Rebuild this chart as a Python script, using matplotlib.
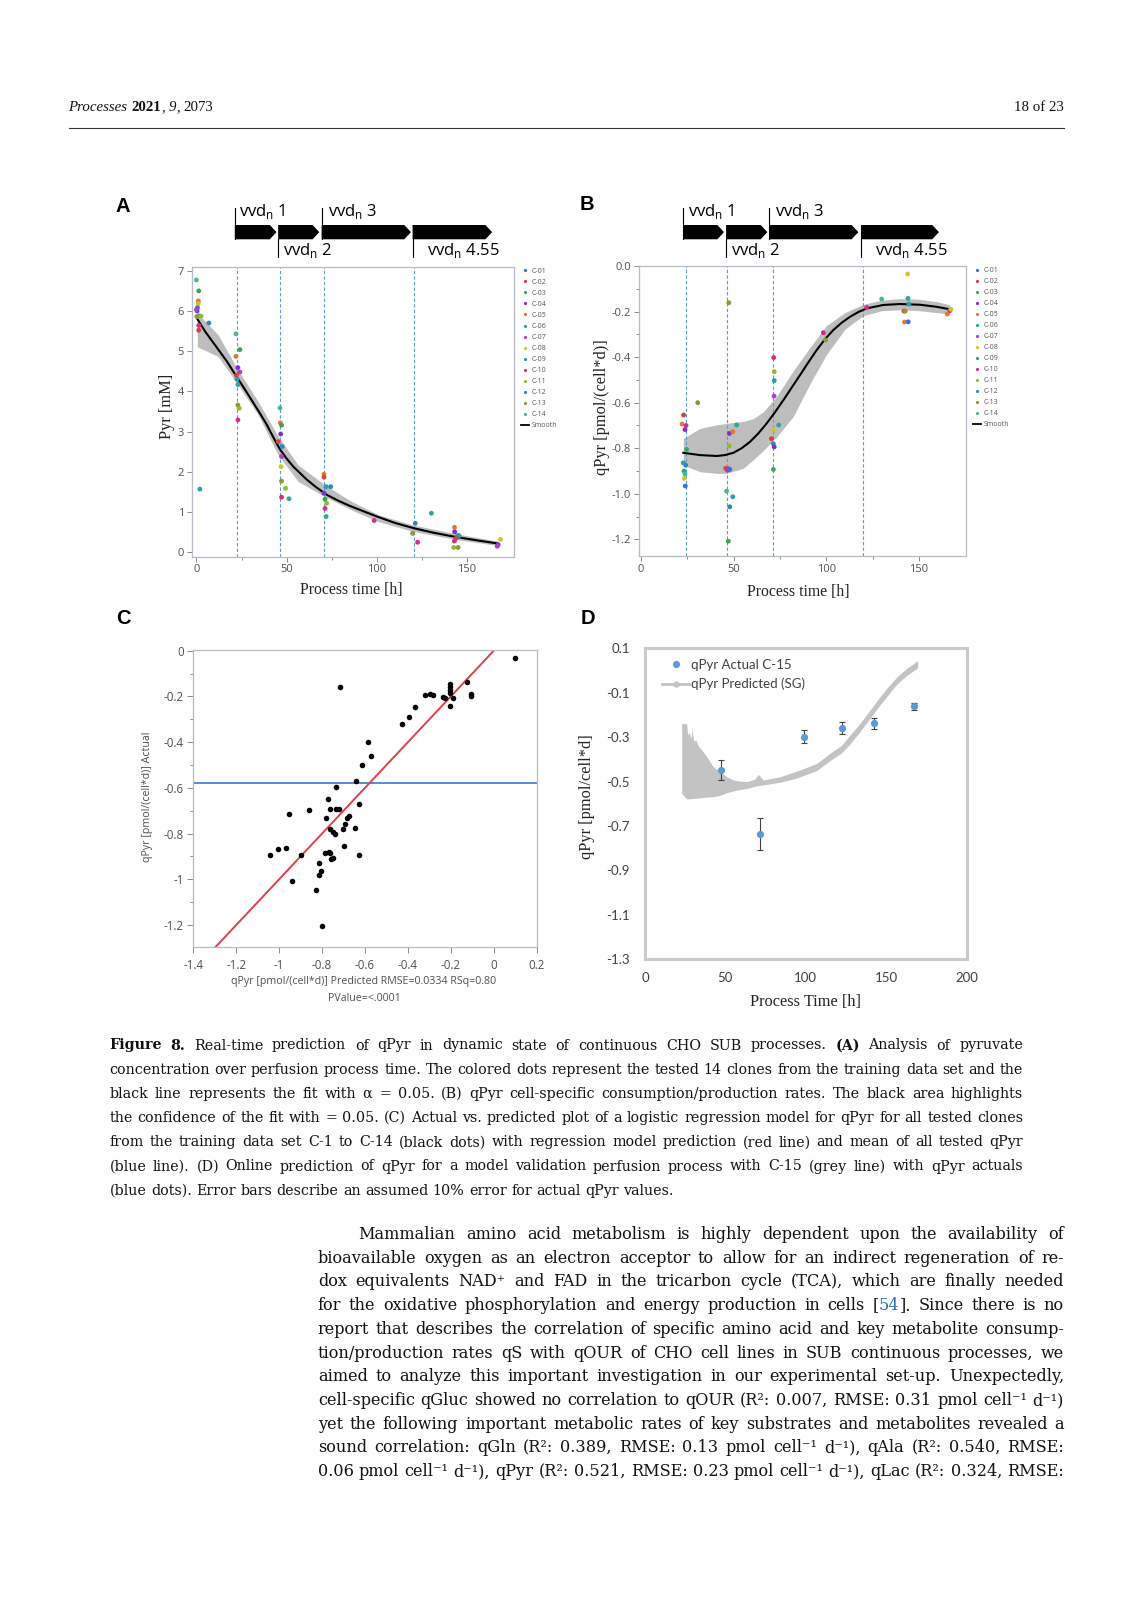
import matplotlib
matplotlib.use('Agg')
import matplotlib.pyplot as plt
import matplotlib.transforms as mtransforms
from matplotlib.lines import Line2D
from matplotlib.patches import Polygon
from matplotlib.ticker import FixedLocator, FuncFormatter

W, H = 1131, 1600
SERIF = ['Liberation Serif', 'DejaVu Serif']
TEXT_SERIF = ['DejaVu Serif']
SANS = ['Open Sans', 'DejaVu Sans']
plt.rcParams['font.family'] = SANS
plt.rcParams['axes.unicode_minus'] = False

# ---------------- data ----------------
clone_names = ['C-%02d' % i for i in range(1, 15)]
clone_colors = ['#3B6FD6', '#D6413B', '#3AA655', '#7E2FD0', '#E07B27', '#2AA89A', '#B43BD0',
                '#C9C92A', '#2A9DB0', '#D22C8C', '#8DBE32', '#2E86C1', '#8F9A2E', '#4FB58E']
phase_labels = ['1', '2', '3', '4.55']

# panel A: Pyr concentration
a_time = [0.0, 1.3, 1.1, 1.1, 0.6, 0.4, 0.0, 1.5, 0.2, 2.6, 1.3, 1.3, 6.9, 1.9,
          21.9, 24.1, 21.9, 23.0, 24.1, 22.2, 22.5, 23.0, 23.0, 23.7, 23.0,
          46.3, 46.5, 47.2, 46.7, 45.4, 47.6, 47.2, 46.9, 47.2, 49.4, 47.2, 51.3,
          70.7, 70.7, 71.9, 74.4, 70.7, 71.3, 72.2, 71.3, 71.9,
          98.5, 121.3, 130.2, 119.8, 122.6,
          143.0, 143.1, 144.8, 145.6, 143.9, 143.0, 142.6, 145.0,
          168.5, 167.2, 166.7]
a_pyr = [6.77, 6.50, 6.25, 6.18, 6.08, 6.00, 6.03, 5.88, 5.86, 5.87, 5.64, 5.52, 5.70, 1.57,
         5.43, 5.04, 4.87, 4.59, 4.48, 4.40, 4.30, 4.17, 3.66, 3.58, 3.29,
         3.59, 3.22, 3.16, 2.94, 2.75, 2.63, 2.38, 2.13, 1.77, 1.59, 1.37, 1.33,
         1.94, 1.87, 1.63, 1.63, 1.47, 1.32, 1.22, 1.09, 0.89,
         0.79, 0.72, 0.97, 0.47, 0.25,
         0.62, 0.51, 0.42, 0.41, 0.35, 0.28, 0.12, 0.12,
         0.32, 0.19, 0.15]
a_clone = [14, 3, 5, 8, 1, 4, 7, 6, 13, 11, 10, 2, 12, 9,
           14, 3, 5, 4, 7, 2, 9, 6, 13, 11, 10,
           14, 5, 3, 4, 2, 12, 7, 8, 13, 11, 10, 6,
           5, 2, 9, 12, 4, 3, 11, 10, 6,
           10, 12, 6, 13, 10,
           5, 4, 6, 9, 2, 10, 11, 13,
           8, 4, 7]
a_fit_time = [0.5, 5.0, 11.0, 17.0, 22.2, 27.0, 31.5, 35.0, 38.9, 42.5, 46.3, 50.0, 53.7, 61.1,
              66.0, 72.2, 78.7, 85.2, 92.0, 100.0, 110.0, 120.4, 131.0, 142.6, 155.0, 166.7]
a_fit = [5.80, 5.48, 5.11, 4.74, 4.37, 4.04, 3.72, 3.47, 3.18, 2.87, 2.56, 2.33, 2.13, 1.81,
         1.63, 1.43, 1.28, 1.15, 1.03, 0.89, 0.73, 0.60, 0.49, 0.39, 0.30, 0.22]
a_band_time = [0.5, 12.0, 23.1, 34.2, 45.3, 56.4, 71.3, 86.1, 101.0, 120.0, 145.0, 166.7]
a_band_hi = [5.95, 5.41, 4.53, 3.75, 2.88, 2.17, 1.67, 1.26, 0.93, 0.68, 0.45, 0.28]
a_band_lo = [5.11, 4.87, 4.16, 3.42, 2.42, 1.76, 1.38, 1.05, 0.76, 0.52, 0.31, 0.17]
a_switch = [22.4, 46.1, 70.7, 120.7]
a_phase_start = [21.3, 45.3, 69.4, 119.8]
a_phase_end = [44.4, 68.1, 118.9, 163.9]

# panel B: qPyr
b_time = [23.0, 22.1, 24.3, 23.7, 24.6, 22.8, 24.1, 23.2, 23.7, 23.4, 23.9, 30.6,
          47.4, 47.7, 49.5, 51.6, 47.5, 45.7, 46.6, 47.3, 47.9, 46.2, 49.5, 47.9, 47.1,
          71.6, 71.9, 71.9, 71.8, 74.3, 71.4, 70.4, 71.4, 71.9, 71.4,
          98.4, 99.6,
          121.8, 129.9,
          143.9, 144.1, 144.6, 141.9, 142.6, 142.2, 144.2,
          165.3, 166.7, 167.3]
b_q = [-0.654, -0.694, -0.700, -0.718, -0.805, -0.864, -0.874, -0.900, -0.913, -0.932, -0.966, -0.600,
       -0.161, -0.735, -0.727, -0.698, -0.790, -0.888, -0.896, -0.890, -0.893, -0.988, -1.013, -1.057, -1.208,
       -0.402, -0.464, -0.503, -0.571, -0.698, -0.717, -0.758, -0.780, -0.794, -0.893,
       -0.293, -0.325,
       -0.182, -0.145,
       -0.035, -0.142, -0.167, -0.198, -0.198, -0.246, -0.245,
       -0.211, -0.196, -0.190]
b_clone = [2, 5, 10, 4, 3, 6, 12, 9, 14, 8, 1, 13,
           13, 4, 5, 6, 11, 2, 10, 7, 1, 14, 9, 12, 3,
           10, 11, 9, 7, 6, 8, 2, 12, 4, 3,
           10, 13,
           10, 14,
           8, 6, 9, 2, 13, 5, 1,
           5, 10, 8]
b_fit_time = [22.8, 31.8, 40.8, 45.3, 49.8, 54.3, 58.8, 63.3, 67.8, 72.3, 76.8, 81.3, 85.8, 90.3,
              94.8, 99.3, 103.8, 108.3, 112.8, 117.3, 121.8, 130.8, 139.7, 150.5, 159.5, 166.7]
b_fit = [-0.820, -0.830, -0.834, -0.830, -0.820, -0.800, -0.772, -0.735, -0.691, -0.642, -0.589,
         -0.534, -0.479, -0.423, -0.369, -0.321, -0.281, -0.249, -0.223, -0.202, -0.186, -0.171,
         -0.167, -0.170, -0.179, -0.190]
b_band_time = [22.8, 31.8, 40.8, 46.2, 55.2, 60.6, 66.0, 73.2, 82.2, 91.0, 100.0, 110.0,
               120.0, 130.0, 140.0, 150.0, 160.0, 166.7]
b_band_hi = [-0.757, -0.713, -0.697, -0.691, -0.682, -0.670, -0.640, -0.572, -0.460, -0.360, -0.262, -0.205,
             -0.168, -0.150, -0.143, -0.146, -0.157, -0.171]
b_band_lo = [-0.874, -0.903, -0.910, -0.910, -0.888, -0.850, -0.810, -0.750, -0.660, -0.520, -0.390, -0.278,
             -0.218, -0.196, -0.192, -0.196, -0.205, -0.212]
b_switch = [24.0, 46.6, 71.0, 119.8]
b_phase_start = [22.8, 45.9, 69.3, 118.7]
b_phase_end = [44.8, 68.2, 117.3, 160.8]

# panel C: actual vs predicted
c_pred = [0.100, -0.718, -0.127, -0.205, -0.205, -0.205, -0.205, -0.192, -0.205, -0.236,
          -0.228, -0.104, -0.104, -0.321, -0.298, -0.282, -0.368, -0.395, -0.426, -0.586,
          -0.570, -0.612, -0.640, -0.734, -0.773, -0.628, -0.765, -0.734, -0.721, -0.861,
          -0.952, -0.675, -0.684, -0.784, -0.695, -0.762, -0.749, -0.742, -0.703, -0.648,
          -0.698, -1.006, -0.967, -1.042, -0.900, -0.768, -0.788, -0.765, -0.749, -0.760,
          -0.628, -0.815, -0.804, -0.812, -0.939, -0.830, -0.799]
c_actual = [-0.034, -0.160, -0.139, -0.147, -0.157, -0.172, -0.187, -0.209, -0.242, -0.201,
            -0.209, -0.190, -0.198, -0.195, -0.191, -0.194, -0.245, -0.292, -0.321, -0.401,
            -0.461, -0.500, -0.570, -0.598, -0.650, -0.672, -0.693, -0.693, -0.693, -0.697,
            -0.716, -0.723, -0.731, -0.733, -0.758, -0.782, -0.792, -0.800, -0.782, -0.777,
            -0.854, -0.869, -0.862, -0.895, -0.895, -0.879, -0.884, -0.886, -0.908, -0.913,
            -0.895, -0.930, -0.962, -0.981, -1.006, -1.047, -1.204]
c_mean = -0.58
c_fit_x = [-1.4, 0.2]

# panel D: online prediction C-15
d_time = [47.0, 71.5, 98.7, 122.3, 142.6, 167.5]
d_actual = [-0.448, -0.736, -0.298, -0.260, -0.238, -0.160]
d_err = [0.045, 0.074, 0.030, 0.026, 0.024, 0.016]
d_pred_time = [22.8, 25.9, 26.5, 27.5, 28.5, 29.3, 30.3, 31.5, 33.2, 35.3, 38.4, 42.5, 46.6,
               50.8, 54.9, 59.0, 63.3, 68.0, 70.5, 73.6, 84.0, 94.4, 106.8, 115.1, 122.0,
               127.5, 133.7, 139.9, 146.1, 151.3, 156.5, 162.7, 166.8, 169.5]
d_pred_hi = [-0.238, -0.240, -0.290, -0.278, -0.305, -0.268, -0.318, -0.312, -0.340, -0.358, -0.388,
             -0.433, -0.456, -0.478, -0.493, -0.498, -0.500, -0.490, -0.468, -0.493, -0.478, -0.453,
             -0.418, -0.372, -0.338, -0.290, -0.238, -0.178, -0.118, -0.072, -0.030, 0.010, 0.030, 0.045]
d_pred_lo = [-0.553, -0.578, -0.578, -0.578, -0.577, -0.576, -0.576, -0.575, -0.574, -0.572, -0.570,
             -0.568, -0.562, -0.550, -0.542, -0.536, -0.531, -0.522, -0.518, -0.515, -0.503, -0.484,
             -0.450, -0.405, -0.372, -0.330, -0.275, -0.215, -0.155, -0.108, -0.062, -0.022, -0.002, 0.012]

fig = plt.figure(figsize=(W / 100, H / 100), dpi=100)
renderer = fig.canvas.get_renderer()


def px_axes(x0, y0, x1, y1):
    return fig.add_axes([x0 / W, 1 - y1 / H, (x1 - x0) / W, (y1 - y0) / H])


def ftext(x, y, s, **kw):
    return fig.text(x / W, 1 - y / H, s, **kw)


def style_jmp(ax):
    for sp in ax.spines.values():
        sp.set_color('#B4BCC8')
        sp.set_linewidth(0.9)
    ax.tick_params(which='both', direction='out', color='#8A8A8A', labelcolor='#505050',
                   labelsize=8, width=0.7)
    ax.tick_params(which='major', length=3.5, pad=2)
    ax.tick_params(which='minor', length=2)


def clone_legend(ax, x, y):
    handles = [Line2D([], [], ls='none', marker='o', ms=2.3, mec='none', mfc=c) for c in clone_colors]
    handles.append(Line2D([], [], color='black', lw=1.3))
    ax.legend(handles, clone_names + ['Smooth'], loc='upper left', bbox_to_anchor=(x / W, 1 - y / H),
              bbox_transform=fig.transFigure, frameon=False, fontsize=5, labelcolor='#555555',
              handlelength=1.2, handletextpad=0.4, labelspacing=0.58, borderpad=0, borderaxespad=0)


def draw_phases(ax, starts, ends, ax_top, ax_bot, gaps):
    trans = mtransforms.blended_transform_factory(ax.transData, ax.transAxes)
    fy = lambda py: (ax_bot - py) / (ax_bot - ax_top)
    lo, hi = ax.get_xlim()
    tip = 6.7 * (hi - lo) / (ax.get_position().width * W)
    y_top, y_bot = fy(225), fy(239.3)
    y_mid = (y_top + y_bot) / 2
    for i, (x0, x1) in enumerate(zip(starts, ends)):
        ax.add_patch(Polygon([(x0, y_bot), (x1 - tip, y_bot), (x1, y_mid), (x1 - tip, y_top), (x0, y_top)],
                             closed=True, transform=trans, color='black', clip_on=False, lw=0))
        if i % 2 == 0:
            ax.plot([x0, x0], [fy(208), y_bot], color='black', lw=0.8, transform=trans, clip_on=False)
            ty = fy(211.5)
        else:
            ax.plot([x0, x0], [y_bot, fy(256.7)], color='black', lw=0.8, transform=trans, clip_on=False)
            ty = fy(250.5)
        tt = mtransforms.offset_copy(trans, fig=fig, x=gaps[i], y=0, units='dots')
        ax.text(x0, ty, r'vvd$_\mathregular{n}$ ' + phase_labels[i], transform=tt, fontsize=12,
                ha='left', va='center', color='black', family=SANS)


def text_width(s, size, family):
    t = fig.text(0, 0, s, fontsize=size, family=family)
    w = t.get_window_extent(renderer).width
    t.remove()
    return w


def fit_size(lines, starts, x_end, family, s0=12.0):
    # largest size at which every justified line still fits at normal word spacing
    ratio = max(text_width(l, s0, family) / (x_end - x0) for l, x0 in zip(lines, starts))
    return s0 / ratio * 0.995


def set_line(text, x0, y, size, x1=None, special=None, family=SERIF, color='#111111'):
    words = text.split(' ')
    items, widths = [], []
    for w in words:
        pieces = special.get(w, [(w, {})]) if special else [(w, {})]
        objs, ww = [], 0
        for s, kw in pieces:
            opts = dict(fontsize=size, family=family, va='baseline', ha='left', color=color)
            opts.update(kw)
            t = fig.text(0, 1 - y / H, s, **opts)
            objs.append((t, ww))
            ww += t.get_window_extent(renderer).width
        items.append(objs)
        widths.append(ww)
    if x1 is None:
        gap = text_width('a a', size, family) - text_width('aa', size, family)
    else:
        gap = (x1 - x0 - sum(widths)) / max(len(words) - 1, 1)
    x = x0
    for objs, ww in zip(items, widths):
        for t, off in objs:
            t.set_x((x + off) / W)
        x += ww + gap


# ---------------- header ----------------
IT = {'style': 'italic'}
BD = {'weight': 'bold'}
set_line('Processes 2021, 9, 2073', 68.5, 111, 10.7,
         special={'Processes': [('Processes', IT)], '2021,': [('2021', BD), (',', {})],
                  '9,': [('9', IT), (',', {})]})
ftext(1064, 111, '18 of 23', fontsize=10.7, family=SERIF, ha='right', va='baseline', color='#111111')
fig.add_artist(Line2D([68.5 / W, 1064 / W], [1 - 127.8 / H] * 2, color='#333333', lw=0.8))

# ---------------- panel A ----------------
axa = px_axes(191.7, 266.7, 514, 556.7)
axa.set_xlim(-2.6, 176)
axa.set_ylim(-0.11, 7.1)
axa.fill_between(a_band_time, a_band_lo, a_band_hi, color='#BDBDBD', lw=0, zorder=1)
for s in a_switch:
    axa.axvline(s, color='#5B9BD5', lw=0.8, ls=(0, (3, 2)), zorder=2)
axa.plot(a_fit_time, a_fit, color='black', lw=1.5, zorder=3)
axa.scatter(a_time, a_pyr, s=12, c=[clone_colors[k - 1] for k in a_clone], lw=0, zorder=4)
axa.xaxis.set_major_locator(FixedLocator([0, 50, 100, 150]))
axa.xaxis.set_minor_locator(FixedLocator([25, 75, 125]))
axa.yaxis.set_major_locator(FixedLocator(range(8)))
style_jmp(axa)
clone_legend(axa, 520.8, 267.8)
draw_phases(axa, a_phase_start, a_phase_end, 266.7, 556.7, [4, 5, 6, 14])
ftext(166.7, 406.7, 'Pyr [mM]', rotation=90, ha='center', va='center', fontsize=11.8, family=SERIF, color='#222222')
ftext(351.7, 590, 'Process time [h]', ha='center', va='center', fontsize=11.3, family=SERIF, color='#222222')
ftext(123, 206, 'A', ha='center', va='center', fontsize=14.5, weight='bold', family=['Liberation Sans'])

# ---------------- panel B ----------------
axb = px_axes(639, 266, 966, 556)
axb.set_xlim(-1.1, 175.4)
axb.set_ylim(-1.273, 0.0)
axb.fill_between(b_band_time, b_band_lo, b_band_hi, color='#BDBDBD', lw=0, zorder=1)
for s in b_switch:
    axb.axvline(s, color='#5B9BD5', lw=0.8, ls=(0, (3, 2)), zorder=2)
axb.plot(b_fit_time, b_fit, color='black', lw=1.5, zorder=3)
axb.scatter(b_time, b_q, s=12, c=[clone_colors[k - 1] for k in b_clone], lw=0, zorder=4)
axb.xaxis.set_major_locator(FixedLocator([0, 50, 100, 150]))
axb.xaxis.set_minor_locator(FixedLocator([25, 75, 125]))
axb.yaxis.set_major_locator(FixedLocator([0, -0.2, -0.4, -0.6, -0.8, -1.0, -1.2]))
axb.yaxis.set_minor_locator(FixedLocator([-0.1, -0.3, -0.5, -0.7, -0.9, -1.1]))
axb.yaxis.set_major_formatter(FuncFormatter(lambda v, _: '%.1f' % v))
style_jmp(axb)
clone_legend(axb, 972.5, 267)
draw_phases(axb, b_phase_start, b_phase_end, 266, 556, [5, 5, 6, 14])
ftext(601.7, 406.7, 'qPyr [pmol/(cell*d)]', rotation=90, ha='center', va='center', fontsize=11.8,
      family=SERIF, color='#222222')
ftext(798.3, 591.7, 'Process time [h]', ha='center', va='center', fontsize=11.3, family=SERIF, color='#222222')
ftext(587, 205, 'B', ha='center', va='center', fontsize=14.5, weight='bold', family=['Liberation Sans'])

# ---------------- panel C ----------------
axc = px_axes(193.3, 650, 536.7, 946.7)
axc.set_xlim(-1.4, 0.2)
axc.set_ylim(-1.295, 0.003)
axc.axhline(c_mean, color='#4A7FD8', lw=1.3, zorder=2)
axc.plot(c_fit_x, c_fit_x, color='#E0404A', lw=1.4, zorder=2)
axc.scatter(c_pred, c_actual, s=16, color='black', lw=0, zorder=3)
axc.xaxis.set_major_locator(FixedLocator([-1.4, -1.2, -1.0, -0.8, -0.6, -0.4, -0.2, 0.0, 0.2]))
axc.yaxis.set_major_locator(FixedLocator([0, -0.2, -0.4, -0.6, -0.8, -1.0, -1.2]))
axc.yaxis.set_minor_locator(FixedLocator([-0.1, -0.3, -0.5, -0.7, -0.9, -1.1]))
fmt_c = FuncFormatter(lambda v, _: '%g' % round(v, 2) if abs(v) > 1e-9 else '0')
axc.xaxis.set_major_formatter(fmt_c)
axc.yaxis.set_major_formatter(fmt_c)
style_jmp(axc)
axc.tick_params(which='major', length=4, labelsize=8.3)
axc.tick_params(axis='x', pad=5)
axc.tick_params(axis='y', pad=3)
ftext(147.7, 796.7, 'qPyr [pmol/(cell*d)] Actual', rotation=90, ha='center', va='center', fontsize=7.7,
      color='#505050')
ftext(364, 981.7, 'qPyr [pmol/(cell*d)] Predicted RMSE=0.0334 RSq=0.80', ha='center', va='center',
      fontsize=7.7, color='#505050')
ftext(364, 998.3, 'PValue=<.0001', ha='center', va='center', fontsize=7.7, color='#505050')
ftext(123, 618.5, 'C', ha='center', va='center', fontsize=14.5, weight='bold', family=['Liberation Sans'])

# ---------------- panel D ----------------
axd = px_axes(645, 648.3, 966.7, 959.3)
axd.set_xlim(0, 200)
axd.set_ylim(-1.3, 0.1)
axd.fill_between(d_pred_time, d_pred_lo, d_pred_hi, color='#C3C3C3', lw=0, zorder=1)
axd.errorbar(d_time, d_actual, yerr=d_err, fmt='o', color='#5B9BD5', ms=5.2, mec='none',
             ecolor='#404040', elinewidth=0.8, capsize=2.2, capthick=0.8, zorder=3)
axd.xaxis.set_major_locator(FixedLocator([0, 50, 100, 150, 200]))
axd.yaxis.set_major_locator(FixedLocator([0.1, -0.1, -0.3, -0.5, -0.7, -0.9, -1.1, -1.3]))
axd.yaxis.set_major_formatter(FuncFormatter(lambda v, _: '%.1f' % v))
for sp in axd.spines.values():
    sp.set_color('#CACACA')
    sp.set_linewidth(2.2)
axd.tick_params(length=0, labelsize=9.5, labelcolor='#404040', labelfontfamily=['Lato', 'DejaVu Sans'])
axd.tick_params(axis='y', pad=11)
axd.tick_params(axis='x', pad=9)
d_handles = [Line2D([], [], ls='none', marker='o', ms=5.2, color='#5B9BD5', mec='none'),
             Line2D([], [], color='#C3C3C3', lw=2, marker='o', ms=4.5, mec='none')]
axd.legend(d_handles, ['qPyr Actual C-15', 'qPyr Predicted (SG)'], loc='upper left',
           bbox_to_anchor=(661.7 / W, 1 - 658.5 / H), bbox_transform=fig.transFigure, frameon=False,
           prop={'family': ['Lato', 'DejaVu Sans'], 'size': 9.5}, labelcolor='#404040',
           handlelength=2.1, handletextpad=0.15, labelspacing=0.55, borderpad=0, borderaxespad=0)
ftext(586.7, 796.7, 'qPyr [pmol/cell*d]', rotation=90, ha='center', va='center', fontsize=11.8,
      family=SERIF, color='#222222')
ftext(805, 1001.7, 'Process Time [h]', ha='center', va='center', fontsize=11.8, family=SERIF, color='#222222')
ftext(588, 618.5, 'D', ha='center', va='center', fontsize=14.5, weight='bold', family=['Liberation Sans'])

# ---------------- caption ----------------
caption = [
    'Figure 8. Real-time prediction of qPyr in dynamic state of continuous CHO SUB processes. (A) Analysis of pyruvate',
    'concentration over perfusion process time. The colored dots represent the tested 14 clones from the training data set and the',
    'black line represents the fit with \u03b1 = 0.05. (B) qPyr cell-specific consumption/production rates. The black area highlights',
    'the confidence of the fit with = 0.05. (C) Actual vs. predicted plot of a logistic regression model for qPyr for all tested clones',
    'from the training data set C-1 to C-14 (black dots) with regression model prediction (red line) and mean of all tested qPyr',
    '(blue line). (D) Online prediction of qPyr for a model validation perfusion process with C-15 (grey line) with qPyr actuals',
    '(blue dots). Error bars describe an assumed 10% error for actual qPyr values.',
]
cap_special = {'Figure': [('Figure', BD)], '8.': [('8.', BD)], '(A)': [('(A)', BD)]}
cap_size = fit_size(caption[:-1], [109.4] * 6, 1023, TEXT_SERIF)
for i, line in enumerate(caption):
    last = i == len(caption) - 1
    set_line(line, 109.4, 1049.5 + 24.2 * i, cap_size, None if last else 1023, cap_special, TEXT_SERIF)

# ---------------- body text ----------------
body = [
    'Mammalian amino acid metabolism is highly dependent upon the availability of',
    'bioavailable oxygen as an electron acceptor to allow for an indirect regeneration of re-',
    'dox equivalents NAD\u207a and FAD in the tricarbon cycle (TCA), which are finally needed',
    'for the oxidative phosphorylation and energy production in cells [54]. Since there is no',
    'report that describes the correlation of specific amino acid and key metabolite consump-',
    'tion/production rates qS with qOUR of CHO cell lines in SUB continuous processes, we',
    'aimed to analyze this important investigation in our experimental set-up. Unexpectedly,',
    'cell-specific qGluc showed no correlation to qOUR (R\u00b2: 0.007, RMSE: 0.31 pmol cell\u207b\u00b9 d\u207b\u00b9)',
    'yet the following important metabolic rates of key substrates and metabolites revealed a',
    'sound correlation: qGln (R\u00b2: 0.389, RMSE: 0.13 pmol cell\u207b\u00b9 d\u207b\u00b9), qAla (R\u00b2: 0.540, RMSE:',
    '0.06 pmol cell\u207b\u00b9 d\u207b\u00b9), qPyr (R\u00b2: 0.521, RMSE: 0.23 pmol cell\u207b\u00b9 d\u207b\u00b9), qLac (R\u00b2: 0.324, RMSE:',
]
body_special = {'[54].': [('[', {}), ('54', {'color': '#2A6EBB'}), ('].', {})]}
body_starts = [358.7] + [317.8] * (len(body) - 1)
body_size = fit_size(body, body_starts, 1064, TEXT_SERIF)
for i, line in enumerate(body):
    set_line(line, body_starts[i], 1239 + 23.7 * i, body_size, 1064, body_special, TEXT_SERIF)

fig.savefig('out.png', dpi=100)
